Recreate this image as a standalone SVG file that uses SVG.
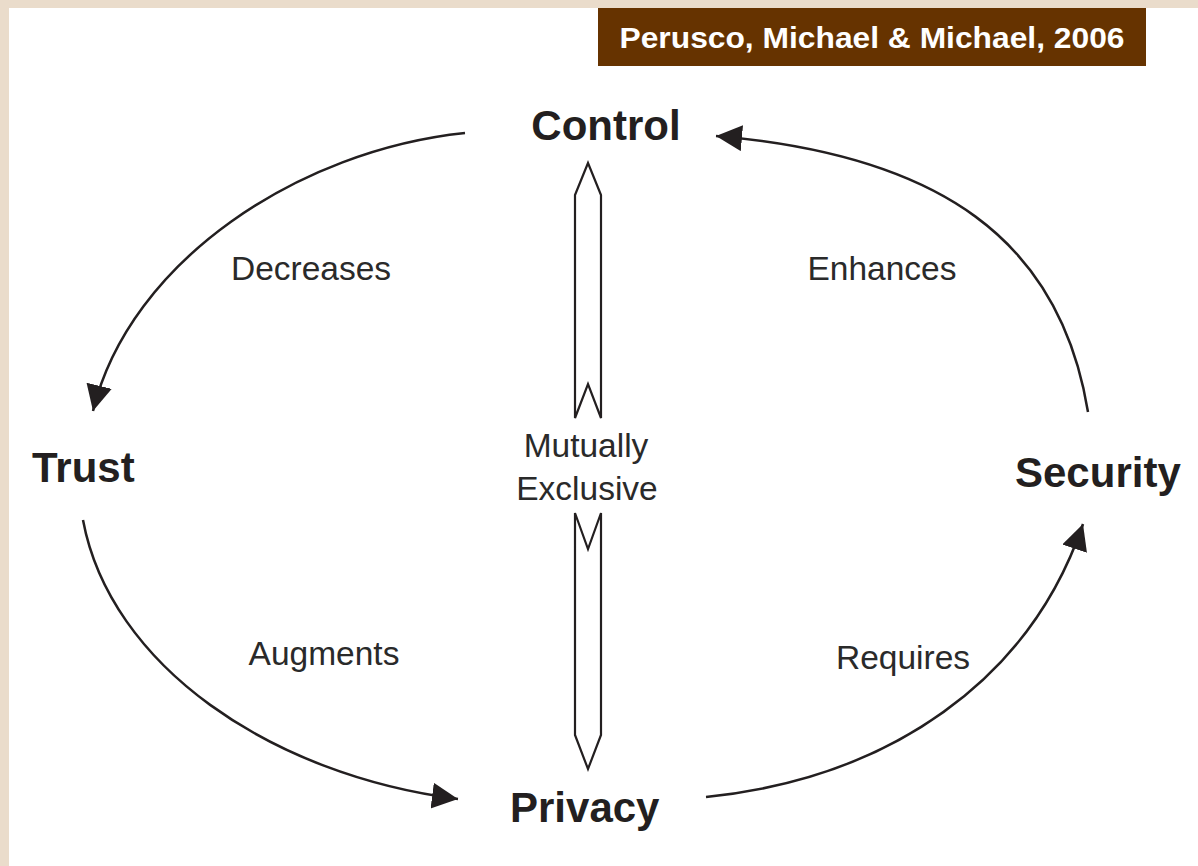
<svg xmlns="http://www.w3.org/2000/svg" width="1198" height="866" viewBox="0 0 1198 866">
  <style>
    .node { font-family: "Liberation Sans", Arial, sans-serif; font-weight: bold; font-size: 42px; fill: #231f20; }
    .lbl { font-family: "Liberation Sans", Arial, sans-serif; font-size: 33.5px; fill: #2a2a2a; text-anchor: middle; }
    .conn { fill: none; stroke: #231f20; stroke-width: 2.5; marker-end: url(#ah); }
    .dbl { fill: #ffffff; stroke: #231f20; stroke-width: 2.2; stroke-linejoin: miter; }
  </style>
  <defs>
    <marker id="ah" markerUnits="userSpaceOnUse" markerWidth="28" markerHeight="28" refX="26" refY="13" orient="auto">
      <path d="M0,0 L26,13 L0,26 Z" fill="#231f20"/>
    </marker>
  </defs>

  <rect x="0" y="0" width="1198" height="866" fill="#eadccb"/>
  <rect x="9" y="8" width="1189" height="858" fill="#ffffff"/>

  <g id="citation">
    <rect x="598" y="8" width="548" height="58" fill="#663300"/>
    <text x="872" y="48" text-anchor="middle" font-family="Liberation Sans, Arial, sans-serif" font-weight="bold" font-size="30" fill="#ffffff" textLength="505" lengthAdjust="spacingAndGlyphs">Perusco, Michael &amp; Michael, 2006</text>
  </g>

  <g id="connectors">
    <path id="c-control-trust" class="conn" d="M465,133 C300,150 130,260 93,411"/>
    <path id="c-trust-privacy" class="conn" d="M83,520 C110,665 270,775 458,799"/>
    <path id="c-privacy-security" class="conn" d="M706,797 C890,778 1030,680 1083,524"/>
    <path id="c-security-control" class="conn" d="M1088,412 C1060,240 940,155 716,136"/>
    <g id="mutually-exclusive-arrow">
      <path class="dbl" d="M575,418 L575,195 L588,163 L601,195 L601,418 L588,384 Z"/>
      <path class="dbl" d="M575,513 L588,549 L601,513 L601,735 L588,769 L575,735 Z"/>
    </g>
  </g>

  <g id="edge-labels">
    <text class="lbl" x="311" y="280">Decreases</text>
    <text class="lbl" x="882" y="280">Enhances</text>
    <text class="lbl" x="324" y="665">Augments</text>
    <text class="lbl" x="903" y="669">Requires</text>
    <text class="lbl" x="586" y="457">Mutually</text>
    <text class="lbl" x="587" y="500">Exclusive</text>
  </g>

  <g id="node-control"><text class="node" x="606" y="140" text-anchor="middle">Control</text></g>
  <g id="node-trust"><text class="node" x="32" y="482">Trust</text></g>
  <g id="node-security"><text class="node" x="1015" y="487">Security</text></g>
  <g id="node-privacy"><text class="node" x="510" y="822">Privacy</text></g>
</svg>
